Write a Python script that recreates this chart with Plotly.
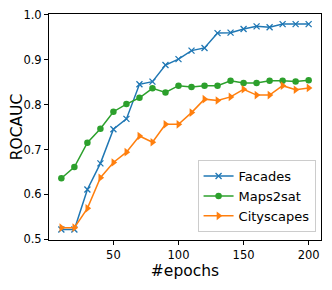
import plotly.graph_objects as go

epochs = [10, 20, 30, 40, 50, 60, 70, 80, 90, 100, 110, 120, 130, 140, 150, 160, 170, 180, 190, 200]
facades = [0.522, 0.522, 0.611, 0.669, 0.745, 0.768, 0.845, 0.851, 0.888, 0.901,
           0.920, 0.926, 0.959, 0.960, 0.968, 0.974, 0.972, 0.979, 0.979, 0.979]
maps2sat = [0.636, 0.661, 0.715, 0.746, 0.784, 0.801, 0.815, 0.836, 0.827, 0.842,
            0.839, 0.842, 0.842, 0.853, 0.848, 0.848, 0.853, 0.853, 0.851, 0.854]
cityscapes = [0.526, 0.526, 0.569, 0.637, 0.671, 0.694, 0.730, 0.716, 0.756, 0.756,
              0.782, 0.812, 0.809, 0.817, 0.834, 0.821, 0.821, 0.842, 0.833, 0.837]

series = [
    ("Facades", facades, "#1f77b4", "x-thin-open", 6, 1.3),
    ("Maps2sat", maps2sat, "#2ca02c", "circle", 6.5, 0),
    ("Cityscapes", cityscapes, "#ff7f0e", "triangle-right", 7.5, 0),
]

fig = go.Figure()
for name, vals, color, sym, size, lw in series:
    fig.add_trace(go.Scatter(
        x=epochs, y=vals, name=name, mode="lines+markers",
        line=dict(color=color, width=1.5),
        marker=dict(symbol=sym, size=size, color=color,
                    line=dict(color=color, width=lw)),
    ))

axis_common = dict(
    showline=True, linecolor="black", linewidth=1, mirror=True,
    ticks="outside", ticklen=4, tickwidth=1, tickcolor="black",
    showgrid=False, zeroline=False, automargin=False,
    ticklabeloverflow="allow",
    tickfont=dict(family="DejaVu Sans", size=11.5, color="black"),
)

# page body has an 8px default margin; figure sized to fit the window without scrolling
fig.update_layout(
    width=316, height=274,
    margin=dict(l=41, r=3, t=6, b=42),
    paper_bgcolor="white", plot_bgcolor="white",
    font=dict(family="DejaVu Sans", color="black"),
    xaxis=dict(range=[0.5, 209.5], tickvals=[50, 100, 150, 200],
               title=dict(text="#epochs", font=dict(size=15.5), standoff=4),
               **axis_common),
    yaxis=dict(range=[0.4985, 1.0015], tickvals=[0.5, 0.6, 0.7, 0.8, 0.9, 1.0],
               tickformat=".1f",
               title=dict(text="ROCAUC", font=dict(size=15.5), standoff=3),
               **axis_common),
    legend=dict(x=0.98, y=0.035, xanchor="right", yanchor="bottom",
                bgcolor="rgba(255,255,255,0.8)", bordercolor="#cccccc", borderwidth=1,
                font=dict(size=13), tracegroupgap=0, itemwidth=30),
    showlegend=True,
)

fig.write_html("out.html")
